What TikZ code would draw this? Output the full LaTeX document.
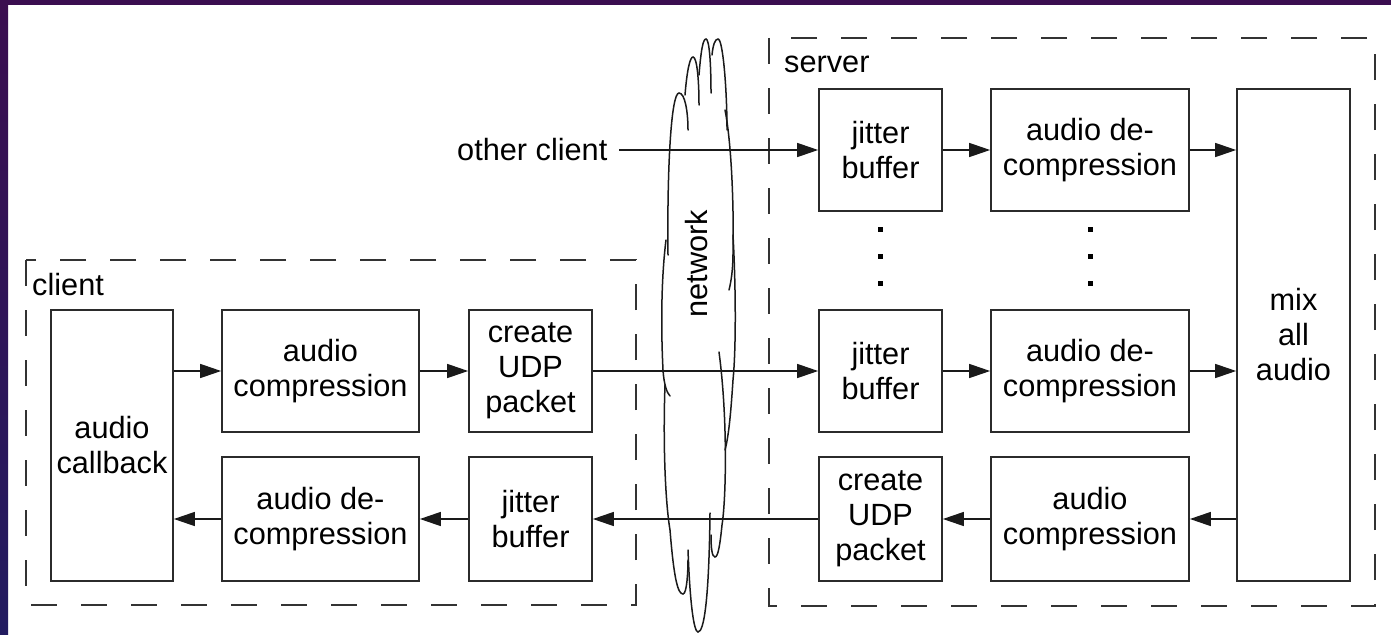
\documentclass[tikz,border=0pt]{standalone}
\usepackage{fontspec}
\setmainfont{Liberation Sans}
\usetikzlibrary{arrows.meta}
\definecolor{boxc}{HTML}{2B2B2B}
\definecolor{linec}{HTML}{1A1A1A}
\definecolor{dashc}{HTML}{333333}
\definecolor{bandtop}{HTML}{3B0E50}
\definecolor{bandbot}{HTML}{221B60}
\begin{document}
\begin{tikzpicture}[x=1pt,y=-1pt,
  blk/.style={draw=boxc, line width=1.7pt, align=center, inner sep=0pt, fill=white,
    font=\fontsize{30.7}{35}\selectfont},
  lbl/.style={font=\fontsize{30.7}{35}\selectfont, inner sep=0pt},
  conn/.style={line width=1.4pt, draw=linec, -{Triangle[length=21pt,width=14pt]}},
  grp/.style={draw=dashc, line width=1.5pt, dash pattern=on 26pt off 24pt},
  cloudln/.style={line width=1.5pt, draw=linec, line cap=round},
  dotm/.style={fill=black}]
% background
\fill[white] (0,0) rectangle (1391,634);
\fill[bandtop] (0,0) rectangle (1391,5);
\shade[top color=bandtop, bottom color=bandbot] (0,0) rectangle (8,634);
\useasboundingbox (0,0) rectangle (1391,634);

% groups
\draw[grp] (26,260) rectangle (636,605);
\draw[grp] (769,38) rectangle (1375,606);
\node[lbl, anchor=base west] (clientlbl) at (32,295) {client};
\node[lbl, anchor=base west] (serverlbl) at (784,72) {server};

% client blocks
\node[blk, minimum width=122pt, minimum height=271pt] (cb) at (112,445.5) {audio\\callback};
\node[blk, minimum width=197pt, minimum height=122pt] (cac) at (320.5,371) {audio\\compression};
\node[blk, minimum width=123pt, minimum height=122pt] (cudp) at (530.5,371) {create\\UDP\\packet};
\node[blk, minimum width=197pt, minimum height=124pt] (cdec) at (320.5,519) {audio de-\\compression};
\node[blk, minimum width=123pt, minimum height=124pt] (cjit) at (530.5,519) {jitter\\buffer};

% server blocks
\node[blk, minimum width=123pt, minimum height=122pt] (sj1) at (880.5,150) {jitter\\buffer};
\node[blk, minimum width=198pt, minimum height=122pt] (sd1) at (1090,150) {audio de-\\compression};
\node[blk, minimum width=113pt, minimum height=492pt] (mix) at (1293.5,335) {mix\\all\\audio};
\node[blk, minimum width=123pt, minimum height=122pt] (sj2) at (880.5,371) {jitter\\buffer};
\node[blk, minimum width=198pt, minimum height=122pt] (sd2) at (1090,371) {audio de-\\compression};
\node[blk, minimum width=123pt, minimum height=124pt] (sudp) at (880.5,519) {create\\UDP\\packet};
\node[blk, minimum width=198pt, minimum height=124pt] (sac) at (1090,519) {audio\\compression};

% dots
\foreach \yy in {229,256,283}{
  \fill[dotm] (878,\yy-2.5) rectangle (883,\yy+2.5);
  \fill[dotm] (1087.5,\yy-2.5) rectangle (1092.5,\yy+2.5);
}

% other client
\node[lbl, anchor=base west] (oc) at (457,160) {other client};
\coordinate (ocs) at (619,150);

% network cloud
\draw[cloudln] (668,255) .. controls (667,170) and (671,93) .. (679,93) .. controls (685,93) and (688,112) .. (688,130);
\draw[cloudln] (685,95) .. controls (687,70) and (690,57) .. (693,57) .. controls (697,57) and (699,80) .. (699,105);
\draw[cloudln] (699,75) .. controls (701,50) and (703,39) .. (706,39) .. controls (709,39) and (711,60) .. (711,93);
\draw[cloudln] (712,55) .. controls (713,45) and (715,39) .. (718,39) .. controls (723,39) and (727,90) .. (727,130);
\draw[cloudln] (725,110) .. controls (731,140) and (734,200) .. (733,253) .. controls (733,270) and (731,282) .. (729,290);
\draw[cloudln] (733,235) .. controls (736,290) and (736,350) .. (733,380) .. controls (731,410) and (729,435) .. (725,450);
\draw[cloudln] (719,352) .. controls (728,420) and (726,500) .. (722,525) .. controls (720,545) and (718,557) .. (715,557) .. controls (712,557) and (711,548) .. (711,535);
\draw[cloudln] (710,513) .. controls (709,600) and (704,632) .. (698,632) .. controls (694,632) and (690,605) .. (688,550);
\draw[cloudln] (666,240) .. controls (661,280) and (661,330) .. (663,370) .. controls (664,385) and (667,393) .. (670,396);
\draw[cloudln] (665,385) .. controls (663,440) and (665,500) .. (670,530) .. controls (674,580) and (678,594) .. (683,594) .. controls (687,594) and (688,570) .. (688,560);
\node[lbl, anchor=base, rotate=90] (net) at (707,263.5) {network};

% connectors
\draw[conn] (cb.east |- cac.west) -- (cac.west);
\draw[conn] (cac) -- (cudp);
\draw[conn] (cudp) -- (sj2);
\draw[conn] (sj2) -- (sd2);
\draw[conn] (sd2.east) -- (mix.west |- sd2.east);
\draw[conn] (ocs) -- (sj1.west);
\draw[conn] (sj1) -- (sd1);
\draw[conn] (sd1.east) -- (mix.west |- sd1.east);
\draw[conn] (mix.west |- sac.east) -- (sac.east);
\draw[conn] (sac) -- (sudp);
\draw[conn] (sudp) -- (cjit);
\draw[conn] (cjit) -- (cdec);
\draw[conn] (cdec.west) -- (cb.east |- cdec.west);
\end{tikzpicture}
\end{document}
